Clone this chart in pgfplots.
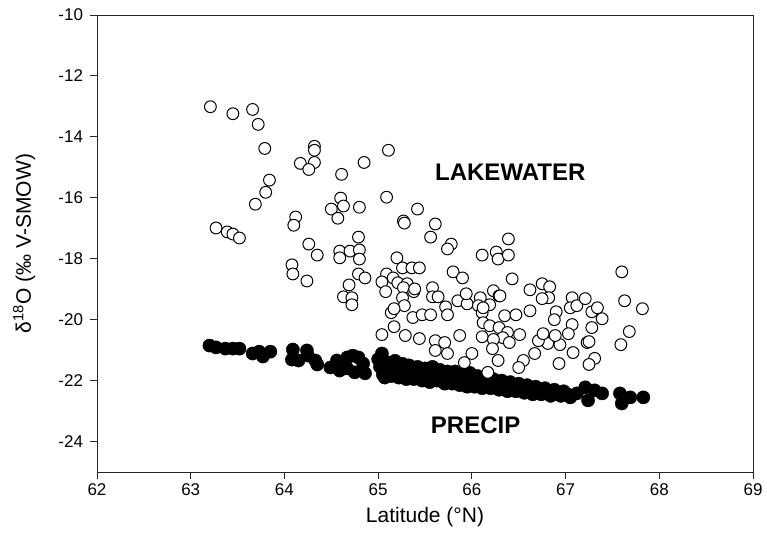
\documentclass[border=0pt]{standalone}
\usepackage{pgfplots}
\pgfplotsset{compat=1.18}
\usepackage{fontspec}
\setmainfont{Liberation Sans}
\begin{document}
\begin{tikzpicture}
\useasboundingbox (-97pt,-78pt) rectangle (670pt,472pt);
\begin{axis}[
  at={(0,0)}, anchor=south west,
  scale only axis, width=656pt, height=457pt,
  xmin=62, xmax=69, ymin=-25, ymax=-10,
  xtick={62,...,69}, ytick={-24,-22,...,-10},
  xtick pos=left, ytick pos=left,
  tick align=outside, major tick length=6.5pt,
  axis line style={line width=0.9pt, black!85},
  every tick/.style={line width=0.9pt, black!85},
  /pgf/number format/assume math mode=true,
  tick label style={font=\fontsize{17}{17}\selectfont},
  yticklabel style={xshift=-4pt},
  xticklabel style={yshift=-2pt},
  xlabel={Latitude (°N)},
  ylabel={δ\textsuperscript{18}O (‰ V-SMOW)},
  label style={font=\fontsize{21}{21}\selectfont},
  xlabel style={at={(axis description cs:0.5,-0.098)}, anchor=center},
  ylabel style={at={(axis description cs:-0.111,0.5)}, anchor=center},
  clip=false,
]
% PRECIP (filled)
\addplot[only marks, mark=*, mark size=6.6pt, black, mark options={fill=black, draw=black}] coordinates {
(63.20,-20.85) (63.27,-20.91) (63.37,-20.95) (63.45,-20.95) (63.52,-20.95)
(63.66,-21.11) (63.73,-21.05) (63.77,-21.21) (63.85,-21.05)
(64.09,-20.98) (64.08,-21.31) (64.15,-21.34) (64.24,-21.01) (64.25,-21.18) (64.33,-21.34) (64.35,-21.47)
(64.49,-21.57) (64.56,-21.34) (64.61,-21.50) (64.67,-21.24) (64.73,-21.18) (64.79,-21.24) (64.84,-21.44)
(64.86,-21.76) (64.75,-21.73) (64.67,-21.60) (64.59,-21.67)
(65.04,-21.11) (65.04,-21.44) (65.07,-21.73) (65.07,-21.90)
(65.00,-21.30) (65.02,-21.55) (65.05,-21.80)
(65.10,-21.40) (65.12,-21.65) (65.14,-21.85)
(65.18,-21.35) (65.20,-21.60) (65.22,-21.90)
(65.26,-21.45) (65.28,-21.70) (65.30,-21.95)
(65.33,-21.50) (65.36,-21.75) (65.38,-21.95)
(65.42,-21.55) (65.44,-21.80) (65.47,-22.00)
(65.50,-21.60) (65.52,-21.85) (65.55,-22.05)
(65.58,-21.55) (65.60,-21.80) (65.63,-22.00)
(65.66,-21.65) (65.68,-21.90) (65.71,-22.10)
(65.74,-21.70) (65.76,-21.90) (65.79,-22.10)
(65.82,-21.70) (65.85,-21.95) (65.87,-22.15)
(65.90,-21.80) (65.92,-22.00) (65.95,-22.20)
(65.98,-21.75) (66.00,-22.00) (66.03,-22.20)
(66.06,-21.85) (66.09,-22.05) (66.11,-22.25)
(66.14,-21.90) (66.17,-22.10) (66.20,-22.25)
(66.23,-21.95) (66.26,-22.15) (66.29,-22.30)
(66.32,-22.00) (66.35,-22.20) (66.38,-22.35)
(66.41,-22.05) (66.44,-22.25) (66.47,-22.35)
(66.50,-22.10) (66.53,-22.25) (66.56,-22.40)
(66.59,-22.15) (66.62,-22.35) (66.65,-22.45)
(66.68,-22.20) (66.71,-22.40) (66.74,-22.45)
(66.78,-22.25) (66.81,-22.40) (66.84,-22.50)
(66.88,-22.30) (66.91,-22.45) (66.95,-22.50)
(66.98,-22.35) (67.02,-22.45) (67.05,-22.55)
(67.12,-22.42) (67.21,-22.22) (67.24,-22.65) (67.31,-22.32) (67.39,-22.42)
(67.58,-22.42) (67.60,-22.75) (67.69,-22.55) (67.83,-22.55)
};
% LAKEWATER (open)
\addplot[only marks, mark=*, mark size=5.9pt, mark options={fill=white, draw=black, line width=1pt}] coordinates {
(63.21,-13.01) (63.45,-13.24) (63.66,-13.10) (63.72,-13.59) (63.79,-14.38)
(64.32,-14.31) (64.32,-14.44) (64.32,-14.84) (64.17,-14.87) (64.26,-15.07)
(65.11,-14.44) (64.85,-14.84) (64.61,-15.23) (63.84,-15.42) (63.80,-15.82)
(63.69,-16.21) (63.27,-16.99) (63.39,-17.12) (63.45,-17.19) (63.52,-17.32)
(64.12,-16.63) (64.10,-16.90) (64.60,-16.01) (64.63,-16.27) (64.50,-16.37)
(64.57,-16.67) (64.80,-16.31) (65.09,-15.98) (65.42,-16.37) (65.27,-16.76)
(65.28,-16.83) (65.61,-16.86) (65.56,-17.29) (64.26,-17.52) (64.35,-17.88)
(64.79,-17.29) (64.59,-17.75) (64.70,-17.75) (64.80,-17.71) (64.59,-17.97)
(64.80,-18.01) (64.08,-18.20) (64.09,-18.50) (64.24,-18.73) (64.79,-18.50)
(64.86,-18.63) (65.20,-17.97) (65.26,-18.30) (65.09,-18.50) (65.16,-18.63)
(65.36,-18.30) (65.44,-18.30) (65.78,-17.52) (65.74,-17.68) (66.39,-17.35)
(66.26,-17.78) (66.28,-18.01) (66.39,-17.88) (66.11,-17.88) (66.43,-18.66)
(65.80,-18.43) (65.90,-18.63) (64.69,-18.86) (64.63,-19.25) (64.72,-19.28)
(64.72,-19.51) (65.04,-18.76) (65.08,-19.08) (65.21,-18.79) (65.31,-18.82)
(65.27,-18.95) (65.38,-19.08) (65.39,-18.99) (65.26,-19.28) (65.28,-19.54)
(65.14,-19.77) (65.17,-19.64) (65.37,-19.93) (65.47,-19.84) (65.56,-19.84)
(65.17,-20.23) (65.04,-20.49) (65.29,-20.52) (65.44,-20.62) (65.58,-18.95)
(65.58,-19.25) (65.64,-19.25) (65.72,-19.58) (65.74,-19.84) (65.85,-19.38)
(65.95,-19.48) (65.94,-19.15) (66.09,-19.28) (66.07,-19.54) (66.11,-19.77)
(66.23,-19.05) (66.29,-19.22) (66.19,-19.51) (66.35,-19.87) (66.47,-19.84)
(66.12,-20.10) (66.19,-20.20) (66.29,-20.26) (66.38,-20.42) (66.33,-20.59)
(66.40,-20.75) (66.11,-20.56) (66.23,-20.65) (66.22,-20.95) (65.87,-20.52)
(65.61,-20.69) (65.71,-20.75) (65.61,-21.01) (65.74,-21.11) (66.00,-21.11)
(65.92,-21.41) (66.28,-21.34) (66.17,-21.73) (67.60,-18.43) (67.63,-19.38)
(67.82,-19.64) (67.68,-20.39) (67.59,-20.82) (66.62,-19.02) (66.75,-18.82)
(66.83,-18.92) (66.82,-19.28) (66.75,-19.31) (66.62,-19.71) (66.90,-19.74)
(66.88,-20.00) (67.07,-19.28) (67.05,-19.61) (67.12,-19.54) (67.21,-19.31)
(67.28,-19.74) (67.34,-19.61) (67.39,-19.97) (67.28,-20.26) (67.07,-20.16)
(67.03,-20.46) (67.23,-20.75) (67.25,-20.72) (67.08,-21.08) (67.31,-21.27)
(67.25,-21.47) (66.93,-21.44) (66.94,-20.82) (66.81,-20.78) (66.71,-20.69)
(66.76,-20.46) (66.89,-20.52) (66.67,-21.11) (66.55,-21.34) (66.50,-21.57)
(66.51,-20.49) (66.12,-19.61) (66.30,-19.22)
};
\node[font=\bfseries\fontsize{24}{24}\selectfont] at (axis cs:66.41,-15.16) {LAKEWATER};
\node[font=\bfseries\fontsize{24}{24}\selectfont] at (axis cs:66.04,-23.46) {PRECIP};
\end{axis}
\end{tikzpicture}
\end{document}
